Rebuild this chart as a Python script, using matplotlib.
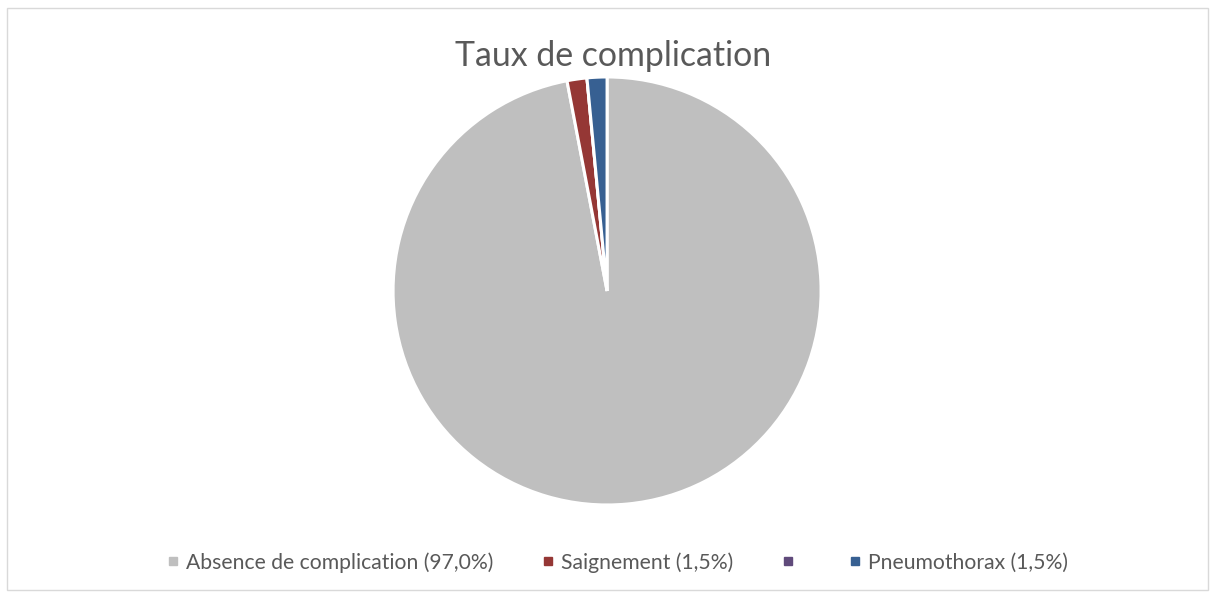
import matplotlib
matplotlib.use("Agg")
import matplotlib.pyplot as plt
from matplotlib.lines import Line2D
from matplotlib.patches import Rectangle

title = "Taux de complication"
labels = ["Absence de complication (97,0%)", "Saignement (1,5%)", "", "Pneumothorax (1,5%)"]
values = [97.0, 1.5, 0.0, 1.5]
colors = ["#BFBFBF", "#953735", "#604A7B", "#376092"]

plt.rcParams['font.family'] = ['Lato', 'DejaVu Sans']

fig = plt.figure(figsize=(12.15, 5.92), dpi=100)
fig.patches.append(Rectangle((0.006, 0.004), 0.988, 0.982, transform=fig.transFigure,
                             fill=False, edgecolor="#D9D9D9", linewidth=1))

ax = fig.add_axes([0.3235, 0.147, 0.3523, 0.723])
ax.pie(values, colors=colors, startangle=90, counterclock=False,
       wedgeprops=dict(edgecolor="white", linewidth=2.2))
ax.set_xlim(-1, 1)
ax.set_ylim(-1, 1)
ax.set_aspect("equal")

fig.text(0.505, 0.905, title, ha="center", va="center", fontsize=24.4, color="#595959")

handles = [Line2D([], [], marker="s", linestyle="none", markersize=6,
                  markerfacecolor=c, markeredgecolor=c) for c in colors]
leg = fig.legend(handles, labels, loc="center", bbox_to_anchor=(0.508, 0.05), ncol=4,
                 frameon=False, fontsize=15.2, labelcolor="#595959",
                 handlelength=0.6, handletextpad=0.3, columnspacing=2.3)

fig.savefig("out.png", dpi=100)
